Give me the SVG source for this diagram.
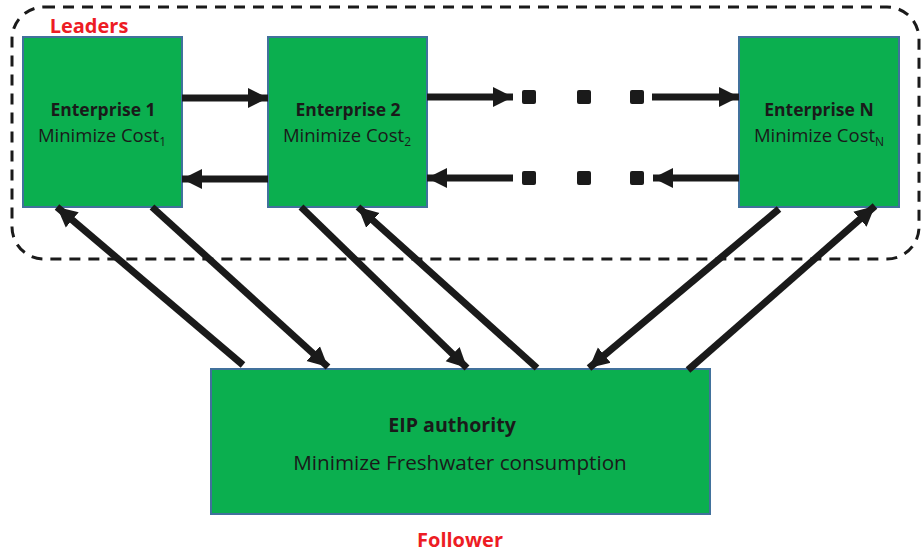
<svg xmlns="http://www.w3.org/2000/svg" width="924" height="554" viewBox="0 0 924 554">
<style>
.box{fill:#0BAF4F;stroke:#41719C;stroke-width:2}
.t{font-family:"Open Sans","Liberation Sans",sans-serif;fill:#1a1a1a;text-anchor:middle}
.b{font-weight:bold}
.red{font-family:"Open Sans","Liberation Sans",sans-serif;font-weight:bold;fill:#ED1C24;text-anchor:middle}
.c{stroke:#1a1a1a;stroke-width:7;fill:none;marker-end:url(#ah)}
.dot{fill:#1a1a1a}
</style>
<defs>
<marker id="ah" markerUnits="userSpaceOnUse" markerWidth="22" markerHeight="22" refX="20" refY="11" orient="auto" viewBox="0 0 22 22">
<path d="M0,1 L20,11 L0,21 Z" fill="#1a1a1a"/>
</marker>
</defs>
<rect x="12" y="7" width="907" height="252" rx="32" ry="32" fill="none" stroke="#1a1a1a" stroke-width="3" stroke-dasharray="11,8"/>
<text class="red" x="89" y="33" font-size="20">Leaders</text>
<g id="e1">
<rect class="box" x="23" y="37" width="159" height="170"/>
<text class="t b" x="103" y="116" font-size="17.5">Enterprise 1</text>
<text class="t" x="102" y="142" font-size="18.5">Minimize Cost<tspan font-size="12" dy="4">1</tspan></text>
</g>
<g id="e2">
<rect class="box" x="268" y="37" width="159" height="170"/>
<text class="t b" x="348" y="116" font-size="17.5">Enterprise 2</text>
<text class="t" x="347" y="142" font-size="18.5">Minimize Cost<tspan font-size="12" dy="4">2</tspan></text>
</g>
<g id="eN">
<rect class="box" x="739" y="37" width="160" height="170"/>
<text class="t b" x="819" y="116" font-size="17.5">Enterprise N</text>
<text class="t" x="819" y="142" font-size="18.5">Minimize Cost<tspan font-size="12" dy="4">N</tspan></text>
</g>
<g id="eip">
<rect class="box" x="211" y="369" width="499" height="145"/>
<text class="t b" x="452" y="432" font-size="19.6">EIP authority</text>
<text class="t" x="460" y="470" font-size="20.7">Minimize Freshwater consumption</text>
</g>
<text class="red" x="460" y="547" font-size="20">Follower</text>
<g id="connectors">
<line class="c" x1="182" y1="98" x2="268" y2="98"/>
<line class="c" x1="268" y1="179" x2="182" y2="179"/>
<line class="c" x1="427" y1="97" x2="513" y2="97"/>
<line class="c" x1="652" y1="97" x2="739" y2="97"/>
<line class="c" x1="513" y1="178" x2="427" y2="178"/>
<line class="c" x1="739" y1="178" x2="653" y2="178"/>
<rect class="dot" x="522" y="90" width="14" height="14" rx="2"/>
<rect class="dot" x="577" y="90" width="14" height="14" rx="2"/>
<rect class="dot" x="630" y="90" width="14" height="14" rx="2"/>
<rect class="dot" x="522" y="171" width="14" height="14" rx="2"/>
<rect class="dot" x="577" y="171" width="14" height="14" rx="2"/>
<rect class="dot" x="630" y="171" width="14" height="14" rx="2"/>
<line class="c" x1="243" y1="365" x2="57" y2="207"/>
<line class="c" x1="152" y1="207" x2="328" y2="367"/>
<line class="c" x1="301" y1="207" x2="467" y2="368"/>
<line class="c" x1="537" y1="368" x2="358" y2="207"/>
<line class="c" x1="779" y1="209" x2="589" y2="368"/>
<line class="c" x1="688" y1="370" x2="875" y2="206"/>
</g>
</svg>
